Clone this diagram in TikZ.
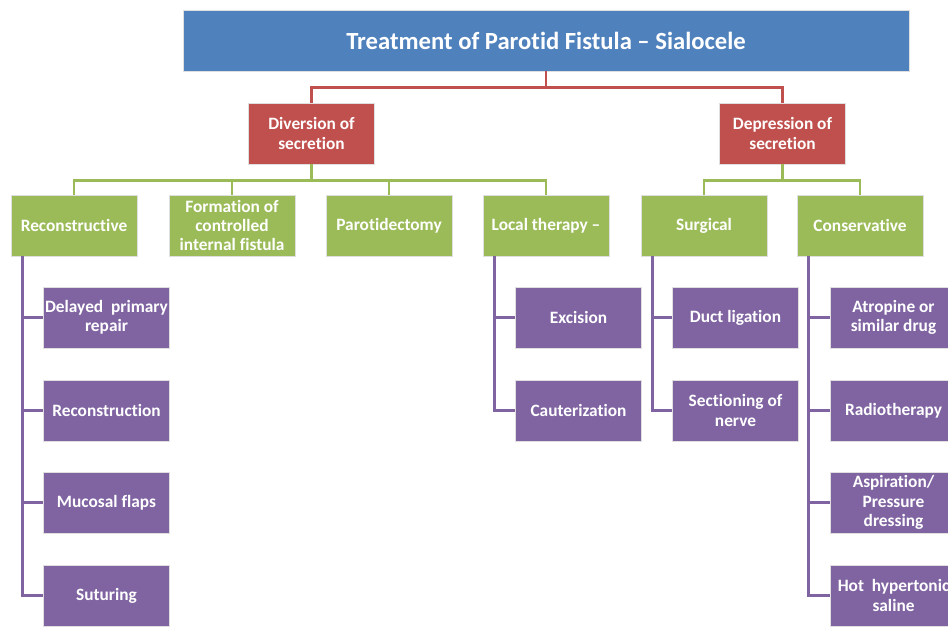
\documentclass[tikz,border=0pt]{standalone}
\usepackage{fontspec}
\setmainfont[Ligatures=NoCommon]{Carlito}
\definecolor{topblue}{HTML}{4F81BD}
\definecolor{levred}{HTML}{C0504D}
\definecolor{levgreen}{HTML}{9BBB59}
\definecolor{levpurple}{HTML}{8064A2}
\tikzset{
    box/.style={rectangle, draw=white!75!gray, line width=0.6pt, text=white,
        font=\bfseries\fontsize{13}{14.6}\selectfont, align=center,
        minimum width=94.5pt, minimum height=45.75pt, inner sep=1pt},
    titlebox/.style={box, fill=topblue, minimum width=544.5pt,
        font=\bfseries\fontsize{18.5}{22}\selectfont},
    redbox/.style={box, fill=levred},
    greenbox/.style={box, fill=levgreen},
    purplebox/.style={box, fill=levpurple},
    redline/.style={draw=levred, line width=2pt},
    greenline/.style={draw=levgreen, line width=2pt},
    purpleline/.style={draw=levpurple, line width=2pt}
}
\begin{document}
\begin{tikzpicture}[x=0.75pt, y=-0.75pt]
    \clip (0,0) rectangle (948,629);
    \fill[white] (0,0) rectangle (948,629);

    \node[titlebox] (title) at (546,40.5) {Treatment of Parotid Fistula -- Sialocele};

    \node[redbox] (div) at (311.5,133.5) {Diversion of\\secretion};
    \node[redbox] (dep) at (782.5,133.5) {Depression of\\secretion};

    \node[greenbox] (rec) at (74,225.5) {Reconstructive};
    \node[greenbox] (form) at (232,225.5) {Formation of\\controlled\\internal fistula};
    \node[greenbox] (parot) at (389,225.5) {Parotidectomy};
    \node[greenbox] (local) at (546,225.5) {Local therapy --};
    \node[greenbox] (surg) at (704,225.5) {Surgical};
    \node[greenbox] (cons) at (860,225.5) {Conservative};

    \node[purplebox] (delay) at (106.5,317.5) {Delayed~ primary\\repair};
    \node[purplebox] (recon) at (106.5,410.5) {Reconstruction};
    \node[purplebox] (mucos) at (106.5,502.5) {Mucosal flaps};
    \node[purplebox] (sutur) at (106.5,595.5) {Suturing};

    \node[purplebox] (excis) at (578.5,317.5) {Excision};
    \node[purplebox] (caut) at (578.5,410.5) {Cauterization};

    \node[purplebox] (duct) at (735.5,317.5) {Duct ligation};
    \node[purplebox] (sect) at (735.5,410.5) {Sectioning of\\nerve};

    \node[purplebox] (atrop) at (893.5,317.5) {Atropine or\\similar drug};
    \node[purplebox] (radio) at (893.5,410.5) {Radiotherapy};
    \node[purplebox] (aspir) at (893.5,502.5) {Aspiration/\\Pressure\\dressing};
    \node[purplebox] (hot) at (893.5,595.5) {Hot~ hypertonic\\saline};

    % title to first level
    \draw[redline] (title.south) -- ++(0,16) -| (div.north);
    \draw[redline] (title.south) -- ++(0,16) -| (dep.north);

    % second level
    \foreach \c in {rec,form,parot,local}
        \draw[greenline] (div.south) -- ++(0,16) -| (\c.north);
    \foreach \c in {surg,cons}
        \draw[greenline] (dep.south) -- ++(0,16) -| (\c.north);

    % leaves
    \foreach \c in {delay,recon,mucos,sutur}
        \draw[purpleline] ([xshift=9pt]rec.south west) |- (\c.west);
    \foreach \c in {excis,caut}
        \draw[purpleline] ([xshift=9pt]local.south west) |- (\c.west);
    \foreach \c in {duct,sect}
        \draw[purpleline] ([xshift=9pt]surg.south west) |- (\c.west);
    \foreach \c in {atrop,radio,aspir,hot}
        \draw[purpleline] ([xshift=9pt]cons.south west) |- (\c.west);
\end{tikzpicture}
\end{document}
